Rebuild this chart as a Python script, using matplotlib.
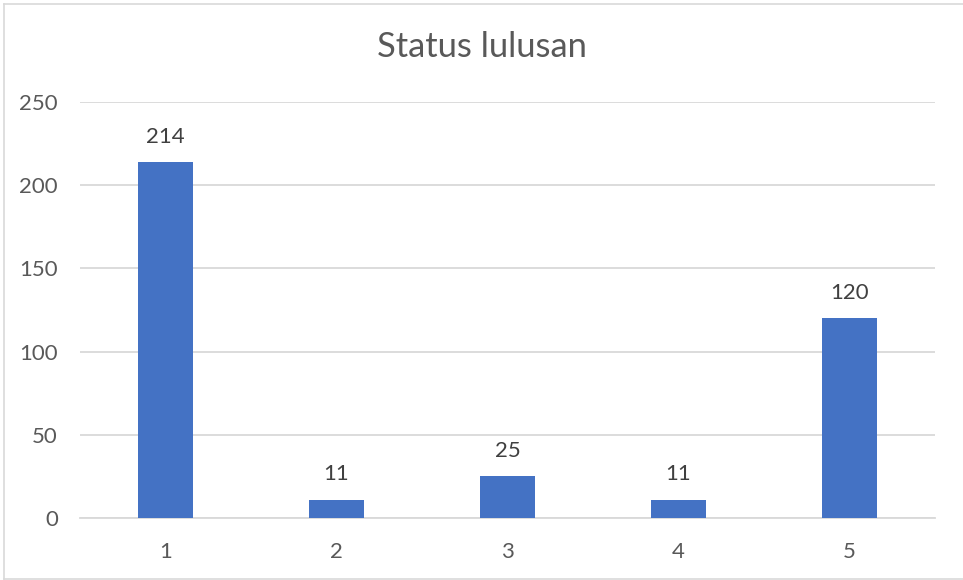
import matplotlib
matplotlib.use("Agg")
import matplotlib.pyplot as plt
from matplotlib.lines import Line2D

categories = ["1", "2", "3", "4", "5"]
values = [214, 11, 25, 11, 120]
yticks = [0, 50, 100, 150, 200, 250]
title = "Status lulusan"

W, H = 963, 580
fig = plt.figure(figsize=(W / 100, H / 100), dpi=100)
plt.rcParams['font.family'] = ['Lato', 'DejaVu Sans']

ax = fig.add_axes([80 / W, 1 - 518 / H, (935 - 80) / W, (518 - 102) / H])
x = list(range(len(categories)))
ax.bar(x, values, width=0.316, color="#4472C4", zorder=3)
ax.set_xlim(-0.5, len(categories) - 0.5)
ax.set_ylim(0, 250)
ax.set_yticks(yticks)
ax.set_xticks(x)
ax.set_xticklabels(categories)
ax.yaxis.grid(True, color="#D9D9D9", linewidth=1.3, zorder=0)
ax.set_axisbelow(True)
for s in ["top", "right", "left"]:
    ax.spines[s].set_visible(False)
ax.spines["bottom"].set_color("#D9D9D9")
ax.spines["bottom"].set_linewidth(1.3)
ax.tick_params(axis="both", length=0, labelsize=16, colors="#595959")
ax.tick_params(axis="y", pad=16)
ax.tick_params(axis="x", pad=17)

for xi, v in zip(x, values):
    ax.annotate(str(v), (xi, v), xytext=(0, 11), textcoords="offset points",
                ha="center", va="bottom", fontsize=16, color="#404040")

fig.text(0.5, 1 - 57 / H, title, ha="center", va="baseline", fontsize=24.8, color="#595959")

# outer chart border (left, top, bottom; right edge cropped)
bx0, bx1 = 3.5 / W, 1.0
by0, by1 = 1 - 578.5 / H, 1 - 3.5 / H
for xs, ys in [([bx0, bx0], [by0, by1]), ([bx0, bx1], [by1, by1]), ([bx0, bx1], [by0, by0])]:
    fig.add_artist(Line2D(xs, ys, transform=fig.transFigure, color="#D9D9D9", linewidth=1.2))

fig.savefig("out.png", dpi=100)
